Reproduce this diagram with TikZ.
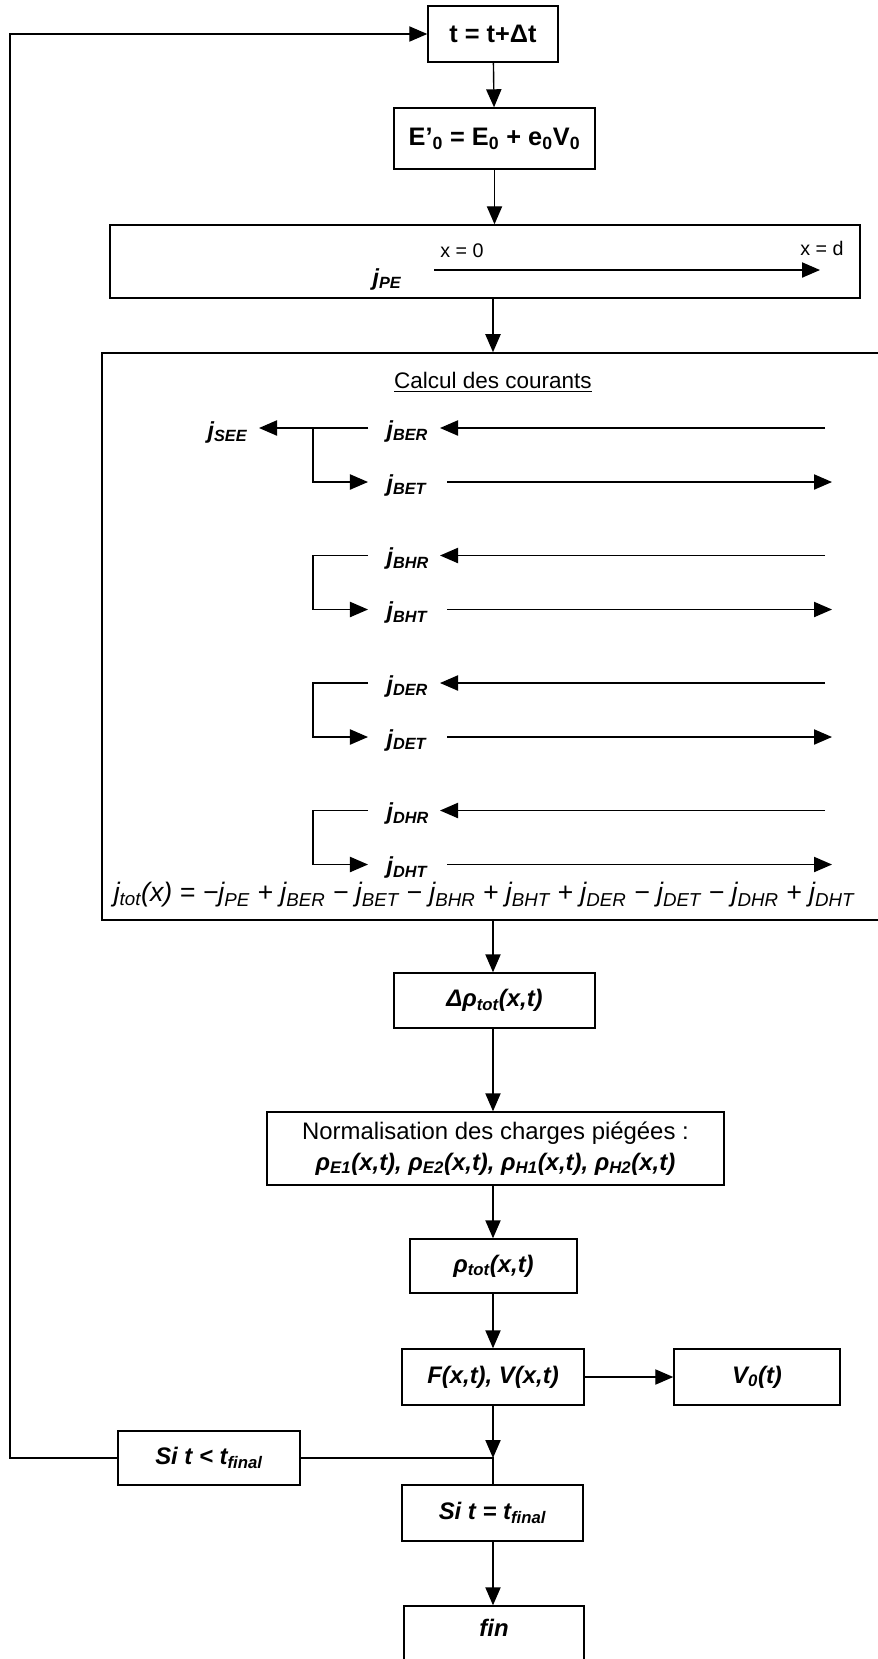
\documentclass[tikz,border=0pt]{standalone}
\usepackage{fontspec}
\setmainfont{Liberation Sans}
\usetikzlibrary{arrows.meta}

\newcommand{\bxfont}{\fontsize{17}{22}\selectfont\bfseries\itshape}
\newcommand{\upfont}{\fontsize{18}{22}\selectfont\bfseries}
\newcommand{\jfont}{\fontsize{16.5}{20}\selectfont\bfseries\itshape}
\newcommand{\eqfont}{\fontsize{19}{22}\selectfont\itshape}
\newcommand{\jcur}[1]{j\textsubscript{#1}}
\newcommand{\jeq}[1]{j\textsubscript{#1}}

\begin{document}
\begin{tikzpicture}[x=0.025cm,y=-0.025cm,line width=1pt,
  arr/.style={-{Triangle[length=4.5mm,width=3.8mm]}},
  box/.style={draw,rectangle,inner sep=0pt,align=center,font=\bxfont},
  jlbl/.style={anchor=west,inner sep=0pt,font=\jfont},
  xlbl/.style={inner sep=0pt,font=\fontsize{14}{16}\selectfont}]
\useasboundingbox (0,0) rectangle (877,1659);

% boucle en temps
\node[box,minimum width=3.25cm,minimum height=1.4cm,font=\upfont] (tbox) at (493,34) {t = t+Δt};
\node[box,minimum width=5.025cm,minimum height=1.525cm,font=\upfont] (ezero) at (494.5,138.5)
   {E’\textsubscript{0} = E\textsubscript{0} + e\textsubscript{0}V\textsubscript{0}};
\node[box,minimum width=18.75cm,minimum height=1.825cm] (pe) at (485,261.5) {};
\node[jlbl,anchor=center] (jpe) at (387,279) {\jcur{PE}};
\node[xlbl] (lx0) at (462,251) {x = 0};
\node[xlbl] (lxd) at (822,248) {x = d};
\coordinate (x0) at (434,270);
\coordinate (xd) at (820,270);
\draw[arr] (x0) -- (xd);

% calcul des courants
\node[draw,rectangle,minimum width=19.7cm,minimum height=14.175cm] (cur) at (496,636.5) {};
\node[xlbl,font=\fontsize{16}{19}\selectfont] (titre) at (493,382) {\underline{Calcul des courants}};
\foreach \i/\a/\b [count=\k from 0] in {1/BER/BET,2/BHR/BHT,3/DER/DET,4/DHR/DHT} {
   \pgfmathsetmacro\yr{428+127.5*\k}
   \pgfmathsetmacro\yt{\yr+54}
   \node[jlbl] (r\i) at (386,\yr+3) {\jcur{\a}};
   \node[jlbl] (t\i) at (386,\yt+3) {\jcur{\b}};
   \coordinate (rin\i) at (825,\yr);
   \coordinate (rtip\i) at (440,\yr);
   \coordinate (tout\i) at (447,\yt);
   \coordinate (tend\i) at (832,\yt);
   \coordinate (bra\i) at (368,\yr);
   \coordinate (bt\i) at (368,\yt);
   \draw[arr] (rin\i) -- (rtip\i);
   \draw[arr] (tout\i) -- (tend\i);
   \draw[arr] (bra\i) -- ++(-55,0) |- (bt\i);
}
\node[jlbl,anchor=east] (see) at (248,432) {\jcur{SEE}};
\coordinate (seetip) at (259,428);
\draw[arr] (bra1) -- (seetip);
\node[inner sep=0pt,font=\eqfont] (jtot) at (484,895)
   {\jeq{tot}(x) = −\jeq{PE} + \jeq{BER} − \jeq{BET} − \jeq{BHR} + \jeq{BHT} + \jeq{DER} − \jeq{DET} − \jeq{DHR} + \jeq{DHT}};

% charges et champ
\node[box,minimum width=5.025cm,minimum height=1.375cm] (drho) at (494.5,1000.5) {Δρ\textsubscript{tot}(x,t)};
\node[box,minimum width=11.425cm,minimum height=1.825cm] (norm) at (495.5,1148.5)
   {\fontseries{m}\upshape Normalisation des charges piégées :\\
    ρ\textsubscript{E1}(x,t), ρ\textsubscript{E2}(x,t), ρ\textsubscript{H1}(x,t), ρ\textsubscript{H2}(x,t)};
\node[box,minimum width=4.175cm,minimum height=1.35cm] (rho) at (493.5,1266) {ρ\textsubscript{tot}(x,t)};
\node[box,minimum width=4.55cm,minimum height=1.4cm] (fvx) at (493,1377) {F(x,t), V(x,t)};
\node[box,minimum width=4.15cm,minimum height=1.4cm] (vzero) at (757,1377) {V\textsubscript{0}(t)};
\node[box,minimum width=4.55cm,minimum height=1.35cm] (sil) at (209,1458) {Si t < t\textsubscript{final}};
\node[box,minimum width=4.525cm,minimum height=1.4cm] (sieq) at (492.5,1513) {Si t = t\textsubscript{final}};
\node[box,minimum width=4.5cm,minimum height=1.5cm,text depth=4mm] (fin) at (494,1636) {fin};
\coordinate (jn) at (493,1458);
\coordinate (loopc) at (10,1458);

% liaisons
\draw[arr] (tbox) -- (ezero);
\draw[arr] (ezero.south) -- (ezero.south |- pe.north);
\draw[arr] (pe.south -| tbox) -- (cur.north -| tbox);
\draw[arr] (cur.south -| tbox) -- (drho.north -| tbox);
\draw[arr] (drho.south -| tbox) -- (norm.north -| tbox);
\draw[arr] (norm.south -| tbox) -- (rho.north -| tbox);
\draw[arr] (rho.south -| tbox) -- (fvx.north -| tbox);
\draw[arr] (fvx) -- (vzero);
\draw[arr] (fvx.south -| tbox) -- (jn);
\draw (sil.east) -- (jn) -- (sieq.north -| tbox);
\draw[arr] (sil.west) -- (loopc) |- (tbox.west);
\draw[arr] (sieq.south -| tbox) -- (fin.north -| tbox);
\end{tikzpicture}
\end{document}
